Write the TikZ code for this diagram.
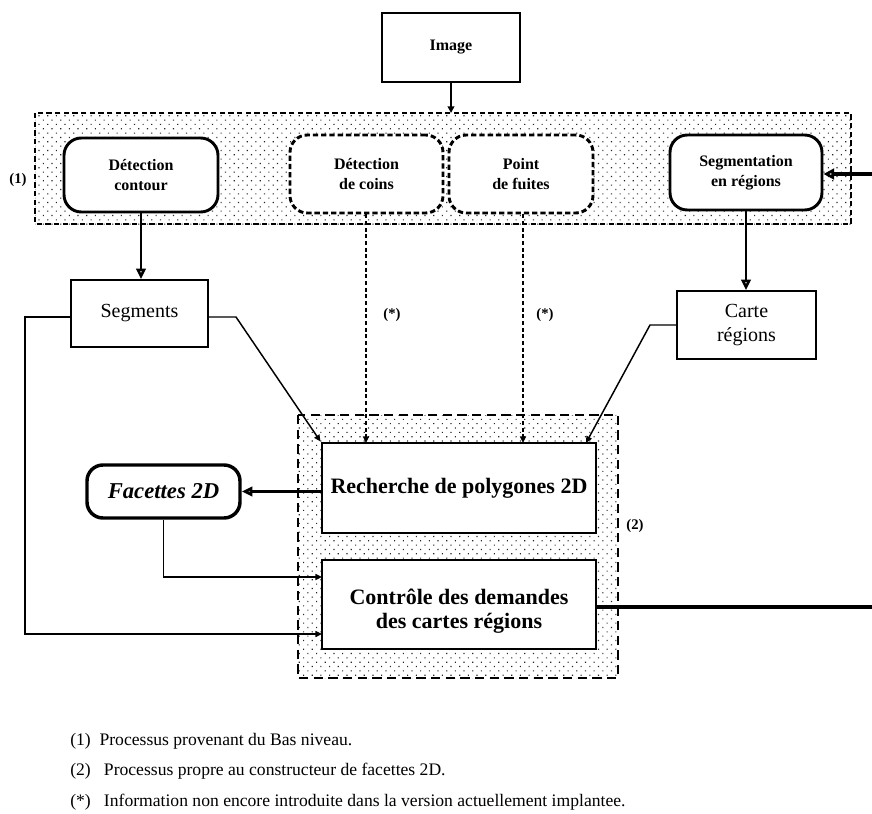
\documentclass[tikz,border=0pt]{standalone}
\usepackage{fontspec}
\setmainfont{Liberation Serif}
\usetikzlibrary{arrows.meta,patterns.meta,calc}
\begin{document}
\begin{tikzpicture}[x=0.75pt,y=-0.75pt,
  sz/.style 2 args={minimum width={#1*0.75pt}, minimum height={#2*0.75pt}},
  region1/.style={draw, line width=1.4pt, dash pattern=on 4pt off 2.5pt,
    pattern={Dots[distance=4.6pt,radius=0.6pt,angle=45]}, pattern color=black!85},
  region2/.style={draw, line width=1.4pt, dash pattern=on 7pt off 4pt,
    pattern={Dots[distance=4.6pt,radius=0.6pt,angle=45]}, pattern color=black!85},
  solidround/.style={draw, line width=2.2pt, rounded corners=13pt, fill=white,
    inner sep=0pt, align=center, font=\bfseries\fontsize{12}{15}\selectfont},
  dashround/.style={solidround, dash pattern=on 4pt off 2.2pt},
  thinbox/.style={draw, line width=1.1pt, fill=white, inner sep=0pt, align=center,
    font=\fontsize{15}{18}\selectfont},
  bigbox/.style={draw, line width=2.2pt, fill=white, inner sep=0pt, align=center,
    font=\bfseries\fontsize{16.5}{18}\selectfont},
  bigtext/.style={inner sep=0pt, align=center, font=\bfseries\fontsize{16.5}{18}\selectfont},
  imgbox/.style={draw, line width=1.6pt, fill=white, inner sep=0pt,
    font=\bfseries\fontsize{12}{15}\selectfont},
  facbox/.style={draw, line width=2.6pt, rounded corners=12pt, fill=white, inner sep=0pt,
    font=\bfseries\itshape\fontsize{17}{20}\selectfont},
  lbl/.style={font=\bfseries\fontsize{11}{13}\selectfont, inner sep=0pt},
  note/.style={font=\fontsize{13.2}{15}\selectfont, anchor=west, inner sep=0pt},
  thinarr/.style={line width=1.1pt, -{Triangle[length=5pt,width=4.5pt]}},
  dasharr/.style={line width=1.1pt, dash pattern=on 3pt off 2pt, -{Triangle[length=5pt,width=4.5pt]}},
  thickarr/.style={line width=1.9pt, -{Triangle[length=8pt,width=7pt,fill=white]}},
  widearr/.style={line width=2.4pt, -{Triangle[length=8pt,width=8pt,fill=white]}},
  wideline/.style={line width=2.4pt}
]
\useasboundingbox (0,0) rectangle (872,814);

% regions
\draw[region1] (35,113) rectangle (851,224);
\draw[region2] (298,415) rectangle (618,678);
\node[lbl] (l1) at (18,180) {(1)};
\node[lbl] (l2) at (635,526) {(2)};

% top
\node[imgbox, sz={138}{69}] (img) at (451,47.5) {Image};
\node[solidround, sz={154}{74}] (detcont) at (141,175) {Détection\\contour};
\node[dashround, sz={153}{78}] (detcoins) at (366.5,174) {Détection\\de coins};
\node[dashround, sz={144}{78}] (fuites) at (521,174) {Point\\de fuites};
\node[solidround, sz={152}{75}] (segreg) at (746,172.5) {Segmentation\\en régions};

% middle
\node[thinbox, sz={137}{67}] (segm) at (139.5,313.5) {Segments};
\node[thinbox, sz={139}{68}] (carte) at (746.5,325) {Carte\\régions};
\node[lbl] (s1) at (392,315) {(*)};
\node[lbl] (s2) at (545,315) {(*)};

% lower
\node[bigbox, sz={274}{90}] (rech) at (459,488) {Recherche de polygones 2D};
\node[bigbox, sz={274}{89}] (ctrl) at (459,604.5) {};
\node[bigtext] (ctrlt) at (459,611) {Contrôle des demandes\\des cartes régions};
\node[facbox, sz={153}{53}] (fac) at (163.5,491.5) {Facettes 2D};

% coordinates
\coordinate (imgin) at (451,113);
\coordinate (sbend) at (236,317);
\coordinate (cbend) at (650,325);
\coordinate (cend) at (586,443);
\coordinate (c1) at (322,577);
\coordinate (c2) at (322,634);
\coordinate (lft) at (25,634);
\coordinate (inR) at (872,174);
\coordinate (outR) at (872,607);
\coordinate (d1) at (366,443);
\coordinate (d2) at (523,443);

% connectors
\draw[line width=1.9pt, -{Triangle[length=5pt,width=5pt]}] (img.south -| imgin) -- (imgin);
\draw[thickarr] (detcont.south) -- (detcont.south |- segm.north);
\draw[thickarr] (segreg.south) -- (segreg.south |- carte.north);
\draw[dasharr] (detcoins.south -| d1) -- (d1);
\draw[dasharr] (fuites.south -| d2) -- (d2);
\draw[thinarr] (segm.east |- sbend) -- (sbend) -- (rech.north west);
\draw[thinarr] (carte.west) -- (cbend) -- (cend);
\draw[thickarr, line width=2.4pt] (rech.west |- fac.east) -- (fac.east);
\draw[thinarr] (fac.south) |- (c1);
\draw[thinarr] (segm.west |- sbend) -| (lft) -- (c2);
\draw[wideline] (ctrl.east |- outR) -- (outR);
\draw[widearr] (inR) -- (segreg.east |- inR);

% notes
\node[note] (n1) at (70,741) {(1)\ \ Processus provenant du Bas niveau.};
\node[note] (n2) at (70,771) {(2)\ \ \ Processus propre au constructeur de facettes 2D.};
\node[note] (n3) at (70,802) {(*)\ \ \ Information non encore introduite dans la version actuellement implantee.};
\end{tikzpicture}
\end{document}
